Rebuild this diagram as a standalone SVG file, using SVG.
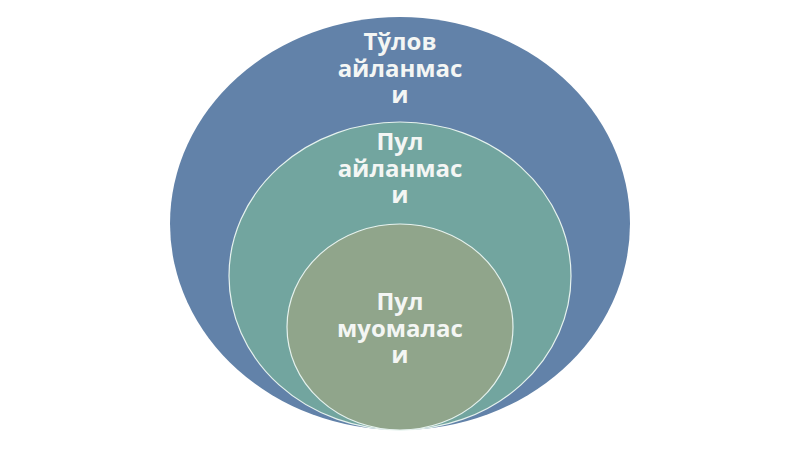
<svg xmlns="http://www.w3.org/2000/svg" width="800" height="450" viewBox="0 0 800 450">
<style>
.lbl{font-family:"Open Sans","Noto Sans","DejaVu Sans",sans-serif;font-weight:bold;font-size:24px;fill:#f4f6f4;text-anchor:middle}
.ring{stroke:#e6f2ee;stroke-width:1.2}
</style>
<rect width="800" height="450" fill="#ffffff"/>
<g id="outer">
<ellipse cx="400" cy="223.5" rx="230" ry="206.5" fill="#6282a9"/>
<text class="lbl" x="400" y="50">Тўлов</text>
<text class="lbl" x="400" y="77">айланмас</text>
<text class="lbl" x="400" y="103">и</text>
</g>
<g id="middle">
<ellipse class="ring" cx="400" cy="276" rx="171" ry="154" fill="#72a59f"/>
<text class="lbl" x="400" y="150">Пул</text>
<text class="lbl" x="400" y="177">айланмас</text>
<text class="lbl" x="400" y="203">и</text>
</g>
<g id="inner">
<ellipse class="ring" cx="400" cy="327" rx="113" ry="103" fill="#90a58b"/>
<text class="lbl" x="400" y="310">Пул</text>
<text class="lbl" x="400" y="337">муомалас</text>
<text class="lbl" x="400" y="363">и</text>
</g>
<g id="connectors"/>
</svg>
